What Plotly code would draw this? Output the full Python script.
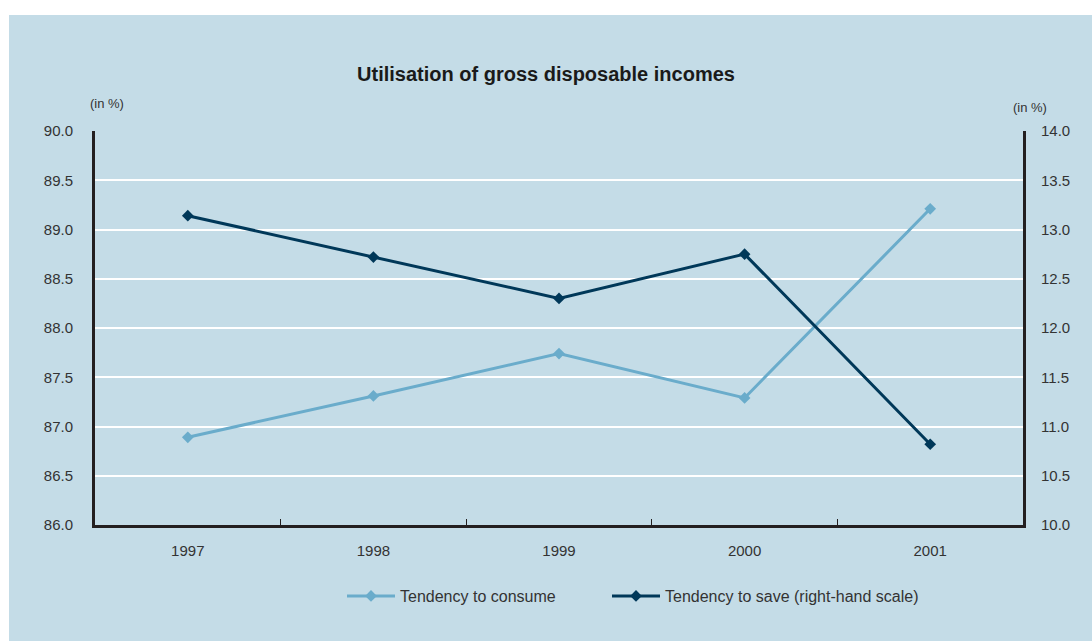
import plotly.graph_objects as go

# Data
years = ["1997", "1998", "1999", "2000", "2001"]
consume = [86.89, 87.31, 87.74, 87.29, 89.21]
save = [13.14, 12.72, 12.30, 12.75, 10.82]

BG = "#c4dce7"
LIGHT = "#6aaccb"
DARK = "#003859"
AXIS = "#231f20"
TXT = "#333333"
FONT = "Liberation Sans, Arial, sans-serif"

W, H = 1092, 641
ML, MR, MT, MB = 95, 69, 131, 116
PW, PH = W - ML - MR, H - MT - MB


def px_x(p):
    return (p - ML) / PW


def px_y(p):
    return (H - MB - p) / PH


fig = go.Figure()
fig.add_trace(go.Scatter(
    x=years, y=consume, name="Tendency to consume", mode="lines+markers",
    line=dict(color=LIGHT, width=3), marker=dict(symbol="diamond", size=9, color=LIGHT),
    yaxis="y", legend="legend",
))
fig.add_trace(go.Scatter(
    x=years, y=save, name="Tendency to save (right-hand scale)", mode="lines+markers",
    line=dict(color=DARK, width=3), marker=dict(symbol="diamond", size=9, color=DARK),
    yaxis="y2", legend="legend2",
))

legend_style = dict(orientation="h", xanchor="left", yanchor="middle", y=px_y(596),
                    font=dict(size=16, color=TXT), bgcolor="rgba(0,0,0,0)", itemwidth=48)

fig.update_layout(
    width=W, height=H,
    margin=dict(l=ML, r=MR, t=MT, b=MB),
    paper_bgcolor="white", plot_bgcolor=BG,
    font=dict(family=FONT, size=15, color=TXT),
    title=dict(text="<b>Utilisation of gross disposable incomes</b>",
               x=0.5, xanchor="center", y=1 - 74 / H, yanchor="middle",
               font=dict(family=FONT, size=20, color="#1a1a1a")),
    showlegend=True,
    legend=dict(x=px_x(342), **legend_style),
    legend2=dict(x=px_x(607), **legend_style),
    xaxis=dict(type="category", range=[-0.5, 4.5], tickson="boundaries",
               ticks="inside", ticklen=6, tickwidth=1, tickcolor=AXIS,
               showline=True, linewidth=3, linecolor=AXIS, showgrid=False,
               ticklabelstandoff=10, tickfont=dict(size=15, color=TXT)),
    yaxis=dict(range=[86, 90], dtick=0.5, tickformat=".1f", showgrid=True,
               gridcolor="white", gridwidth=2, zeroline=False,
               showline=True, linewidth=3, linecolor=AXIS, ticks="",
               ticklabelstandoff=16, tickfont=dict(size=15, color=TXT)),
    yaxis2=dict(range=[10, 14], dtick=0.5, tickformat=".1f", overlaying="y", side="right",
                showgrid=False, zeroline=False, showline=True, linewidth=3, linecolor=AXIS,
                ticks="", ticklabelstandoff=12, tickfont=dict(size=15, color=TXT)),
    shapes=[dict(type="rect", xref="paper", yref="paper", layer="below",
                 x0=px_x(9), x1=px_x(W + 5), y0=px_y(H + 5), y1=px_y(15),
                 fillcolor=BG, line=dict(width=0))],
    annotations=[
        dict(text="(in %)", xref="paper", yref="paper", x=px_x(88), y=px_y(103),
             xanchor="left", yanchor="middle", showarrow=False, font=dict(size=13, color=TXT)),
        dict(text="(in %)", xref="paper", yref="paper", x=px_x(1011), y=px_y(107),
             xanchor="left", yanchor="middle", showarrow=False, font=dict(size=13, color=TXT)),
    ],
)

fig.write_html("out.html")
